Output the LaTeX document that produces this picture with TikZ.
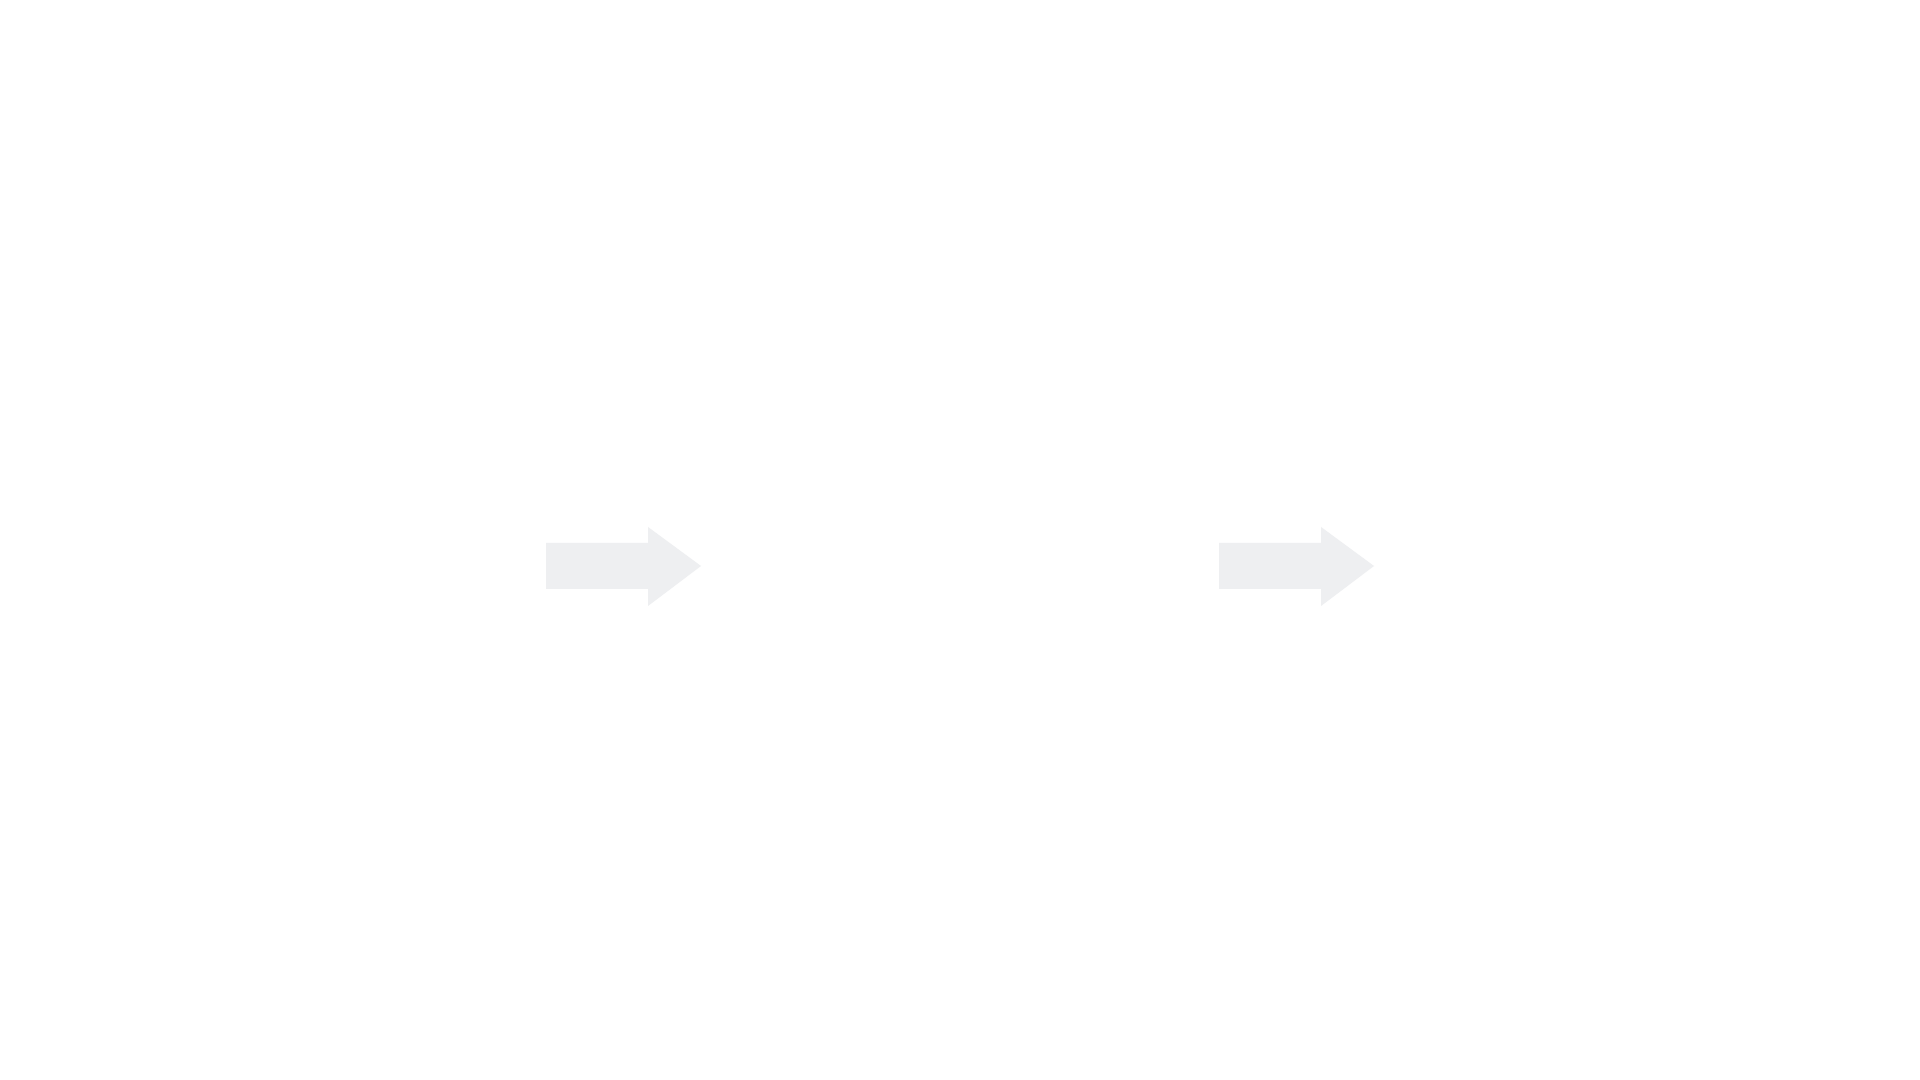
\documentclass[tikz,border=0pt]{standalone}
\usepackage{tikz}

\definecolor{arrowgray}{HTML}{EEEFF1}
\tikzset{blockarrow/.style={fill=arrowgray, draw=none}}

\begin{document}
\begin{tikzpicture}
\useasboundingbox [fill=white] (0,0) rectangle (19.2,10.8);

\fill [blockarrow] (5.46,5.37) -- (6.48,5.37) -- (6.48,5.53) -- (7.01,5.14) -- (6.48,4.74) -- (6.48,4.91) -- (5.46,4.91) -- cycle;
\fill [blockarrow] (12.19,5.37) -- (13.21,5.37) -- (13.21,5.53) -- (13.74,5.14) -- (13.21,4.74) -- (13.21,4.91) -- (12.19,4.91) -- cycle;
\end{tikzpicture}
\end{document}
